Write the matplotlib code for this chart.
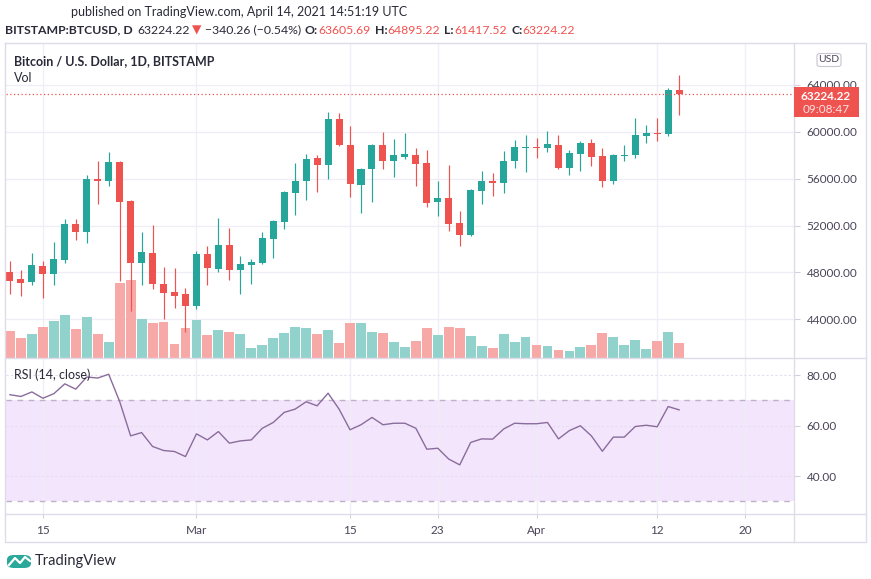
import matplotlib
matplotlib.use("Agg")
import matplotlib.pyplot as plt
import matplotlib.dates as mdates
import numpy as np
import pandas as pd
from matplotlib.lines import Line2D
from matplotlib.patches import FancyBboxPatch, Rectangle
from matplotlib.ticker import FuncFormatter
from matplotlib.transforms import blended_transform_factory

plt.rcParams["font.family"] = ["Lato", "DejaVu Sans"]

# daily BTC/USD candles, Feb 12 .. Apr 14 2021
dates = pd.date_range("2021-02-12", "2021-04-14", freq="D")
opens = [48030, 47440, 47210, 48550, 47890, 49090, 52130, 51480, 55970, 55830,
         57430, 54100, 48830, 49660, 47040, 46360, 46180, 45160, 49600, 48320,
         50370, 48230, 48660, 48830, 50880, 52330, 54810, 55800, 57770, 57200,
         61100, 58880, 55490, 56830, 58880, 57540, 57880, 58020, 57340, 54040,
         54350, 52220, 51220, 54980, 55830, 55660, 57540, 58640, 58720, 58650,
         58880, 56940, 58140, 59050, 57940, 55830, 57950, 58050, 59670, 59900,
         59790, 63605.69]
highs = [48970, 48200, 49660, 48970, 50600, 52560, 52560, 56320, 57510, 58280,
         57510, 54180, 51450, 52050, 48490, 48400, 46700, 49860, 50280, 52670,
         51820, 49430, 49170, 51450, 52500, 54950, 57370, 58110, 58020, 61700,
         61610, 60500, 56890, 58950, 59990, 59390, 59900, 58620, 58450, 55800,
         57170, 53240, 55100, 56660, 56490, 58370, 59300, 59730, 59480, 60070,
         59730, 58450, 59220, 59390, 58620, 58110, 58850, 61180, 60580, 61180,
         63740, 64895.22]
lows = [46180, 46010, 46950, 45840, 46950, 48830, 50790, 50540, 53870, 55400,
        47290, 44730, 46950, 46610, 44050, 44990, 42940, 44900, 46950, 48060,
        47380, 46180, 47040, 48700, 49260, 51730, 52930, 54210, 54890, 56000,
        58790, 54470, 53100, 54040, 56830, 56170, 57710, 55400, 53610, 52840,
        51560, 50280, 51140, 53870, 54550, 54810, 56940, 56600, 57800, 58300,
        56830, 56340, 56690, 57110, 55320, 55580, 57540, 57800, 59080, 59250,
        59670, 61417.52]
closes = [47290, 47120, 48630, 47890, 49140, 52130, 51480, 55970, 55830, 57430,
          54040, 48830, 49740, 47040, 46270, 46010, 45160, 49600, 48400, 50370,
          48230, 48750, 48920, 50970, 52420, 54890, 55800, 57680, 57200, 61100,
          58880, 55550, 56830, 58880, 57540, 58020, 58110, 57280, 53950, 54350,
          52160, 51220, 55040, 55800, 55660, 57510, 58710, 58710, 58640, 58960,
          56940, 58160, 59050, 57880, 55830, 57990, 58050, 59730, 59900, 59790,
          63600, 63224.22]
volumes = [10680, 7880, 9480, 12280, 14680, 17080, 11480, 16280, 9480, 6280,
           29880, 31080, 15480, 13880, 14280, 5480, 11880, 15080, 9080, 11080,
           10280, 9480, 3880, 5080, 7880, 9880, 12280, 11880, 9480, 11080,
           5880, 13880, 13880, 10280, 9880, 6280, 4280, 6680, 11880, 9080,
           12280, 11880, 8680, 4680, 3880, 9480, 6280, 8280, 5080, 4680,
           3080, 2680, 4280, 5080, 9880, 8280, 5080, 7080, 3480, 6680,
           10280, 5880]
rsi = [72.2, 71.5, 73.3, 70.8, 72.6, 76.5, 74.4, 79.2, 78.8, 80.3,
       69.5, 55.9, 57.2, 51.7, 50.1, 49.7, 47.7, 56.7, 54.3, 57.6,
       53.0, 53.9, 54.3, 58.9, 61.2, 65.2, 66.5, 69.4, 67.8, 72.8,
       66.5, 58.3, 60.3, 63.2, 60.3, 60.9, 60.9, 58.9, 50.6, 51.0,
       46.7, 44.4, 53.3, 54.7, 54.6, 58.6, 60.9, 60.7, 60.7, 61.2,
       54.7, 58.0, 59.9, 55.9, 49.8, 55.4, 55.4, 59.6, 60.1, 59.5,
       67.5, 66.2]

price_ticks = [44000, 48000, 52000, 56000, 60000, 64000]
rsi_ticks = [40, 60, 80]
tick_dates = ["2021-02-15", "2021-03-01", "2021-03-15", "2021-03-23",
              "2021-04-01", "2021-04-12", "2021-04-20"]
tick_labels = ["15", "Mar", "15", "23", "Apr", "12", "20"]

last_price = 63224.22

GREEN = "#26a69a"
RED = "#ef5350"
GRID = "#f0edf6"
BORDER = "#e0dbe9"
TEXT = "#2a2a38"
AXTEXT = "#4a4458"

W, H = 871, 579
fig = plt.figure(figsize=(W / 100, H / 100), dpi=100)


def box(left, top, right, bottom):
    return [left / W, 1 - bottom / H, (right - left) / W, (bottom - top) / H]


def ftext(xp, yp, s, **kw):
    return fig.text(xp / W, 1 - yp / H, s, **kw)


def fline(xs, ys, **kw):
    fig.add_artist(Line2D([v / W for v in xs], [1 - v / H for v in ys],
                          transform=fig.transFigure, **kw))


ax = fig.add_axes(box(6, 43, 794, 357.5))
ax_rsi = fig.add_axes(box(6, 359, 794, 514), sharex=ax)

x = mdates.date2num(dates)
o = np.array(opens)
c = np.array(closes)
up = c >= o
colors = np.where(up, GREEN, RED)
vol_colors = np.where(up, "#92d2cc", "#f7a9a7")

# volume overlay sits in the bottom of the price pane
vol_trans = blended_transform_factory(ax.transData, ax.transAxes)
vol_top = max(volumes) / 0.247
ax.bar(x, np.array(volumes) / vol_top, width=0.9, bottom=0, color=vol_colors,
       transform=vol_trans, lw=0, zorder=2)

ax.vlines(x, lows, highs, colors=colors, lw=0.85, zorder=3)
ax.bar(x, np.maximum(np.abs(c - o), 45), bottom=np.minimum(o, c), width=0.64,
       color=colors, lw=0, zorder=4)
ax.axhline(last_price, color=RED, lw=0.9, ls=(0, (1, 2)), zorder=5)

ax.set_xlim(x[0] - 0.36, x[0] + 71.47)
ax.set_ylim(40739, 67585)
ax.set_axisbelow(True)
ax.grid(True, color=GRID, lw=1)
ax.yaxis.tick_right()
ax.set_yticks(price_ticks)
ax.yaxis.set_major_formatter(FuncFormatter(lambda v, p: f"{v:.2f}"))
ax.tick_params(axis="y", length=4, width=0.8, color="#d4cfdc",
               labelsize=8.5, labelcolor=AXTEXT, pad=5)
ax.tick_params(axis="x", length=0, labelbottom=False)
for s in ax.spines.values():
    s.set_visible(False)

# RSI pane
ax_rsi.axhspan(30, 70, color="#f3e6fc", lw=0, zorder=0.2)
ax_rsi.axhline(70, color="#bdb2c7", lw=1, ls=(0, (4, 4)), zorder=1)
ax_rsi.axhline(30, color="#bdb2c7", lw=1, ls=(0, (4, 4)), zorder=1)
ax_rsi.plot(x, rsi, color="#8a6c9c", lw=1, zorder=3)
ax_rsi.set_ylim(24.95, 86.34)
ax_rsi.set_axisbelow(True)
ax_rsi.grid(True, axis="x", color=GRID, lw=1)
ax_rsi.grid(True, axis="y", color="#e6def0", lw=0.8, ls=(0, (2, 2)))
ax_rsi.yaxis.tick_right()
ax_rsi.set_yticks(rsi_ticks)
ax_rsi.yaxis.set_major_formatter(FuncFormatter(lambda v, p: f"{v:.2f}"))
ax_rsi.tick_params(axis="y", length=4, width=0.8, color="#d4cfdc",
                   labelsize=8.5, labelcolor=AXTEXT, pad=5)
ax_rsi.set_xticks(mdates.date2num(pd.to_datetime(tick_dates)))
ax_rsi.set_xticklabels(tick_labels)
ax_rsi.tick_params(axis="x", length=3, width=0.8, color="#d4cfdc",
                   labelsize=8.5, labelcolor=AXTEXT, pad=5)
for s in ax_rsi.spines.values():
    s.set_visible(False)

# frame and separators
fline([5, 866, 866, 5, 5], [43, 43, 542, 542, 43], color=BORDER, lw=1)
fline([794, 794], [43, 542], color=BORDER, lw=1)
fline([5, 866], [358.3, 358.3], color=BORDER, lw=1)
fline([5, 866], [514, 514], color=BORDER, lw=1)

# last price label on the price scale
fig.add_artist(Rectangle((794 / W, 1 - 117 / H), 65 / W, 30 / H,
                         transform=fig.transFigure, color=RED, lw=0, zorder=10))
ftext(826, 96, f"{last_price:.2f}", color="white", fontsize=8.5,
      fontweight="bold", ha="center", va="center", zorder=11)
ftext(826, 109.5, "09:08:47", color="#fbe3e3", fontsize=8.5,
      ha="center", va="center", zorder=11)
fig.add_artist(FancyBboxPatch((817 / W, 1 - 66.5 / H), 24 / W, 13 / H,
                              boxstyle="round,pad=0,rounding_size=0.004",
                              transform=fig.transFigure, fc="white",
                              ec="#c9c3d2", lw=0.8, zorder=10))
ftext(829, 60, "USD", color=AXTEXT, fontsize=7.5, ha="center", va="center",
      zorder=11)

# pane legends
ftext(14, 61, "Bitcoin / U.S. Dollar, 1D, BITSTAMP", color=TEXT, fontsize=9,
      fontweight="bold", va="center")
ftext(14, 77.5, "Vol", color=TEXT, fontsize=9, va="center")
ftext(14, 375, "RSI (14, close)", color=TEXT, fontsize=9, va="center")

# header
ftext(239, 12.5, "published on TradingView.com, April 14, 2021 14:51:19 UTC",
      color=TEXT, fontsize=9, ha="center", va="center")

renderer = fig.canvas.get_renderer()
parts = [
    ("BITSTAMP:BTCUSD, D", TEXT, "bold", 5),
    ("63224.22", TEXT, "normal", 2),
    ("\u25bc", RED, "normal", 3),
    ("\u2212340.26 (\u22120.54%)", TEXT, "normal", 4),
    ("O:", TEXT, "bold", 0.5),
    ("63605.69", RED, "normal", 4),
    ("H:", TEXT, "bold", 0.5),
    ("64895.22", RED, "normal", 4),
    ("L:", TEXT, "bold", 0.5),
    ("61417.52", RED, "normal", 4),
    ("C:", TEXT, "bold", 0.5),
    ("63224.22", RED, "normal", 0),
]
xp = 5
for s, col, weight, gap in parts:
    t = ftext(xp, 30, s, color=col, fontsize=8.8, fontweight=weight,
              va="center")
    xp += t.get_window_extent(renderer=renderer).width + gap

# TradingView logo
fig.add_artist(FancyBboxPatch((7 / W, 1 - 568 / H), 24 / W, 13 / H,
                              boxstyle="round,pad=0,rounding_size=0.008",
                              transform=fig.transFigure, fc="#2aa89a",
                              lw=0, zorder=10))
fline([9, 15, 20, 25, 30], [565, 558, 563, 557, 561], color="white", lw=1.6,
      zorder=11)
ftext(35, 561, "TradingView", color=TEXT, fontsize=10.5, va="center")

fig.savefig("out.png", dpi=100, facecolor="white")
